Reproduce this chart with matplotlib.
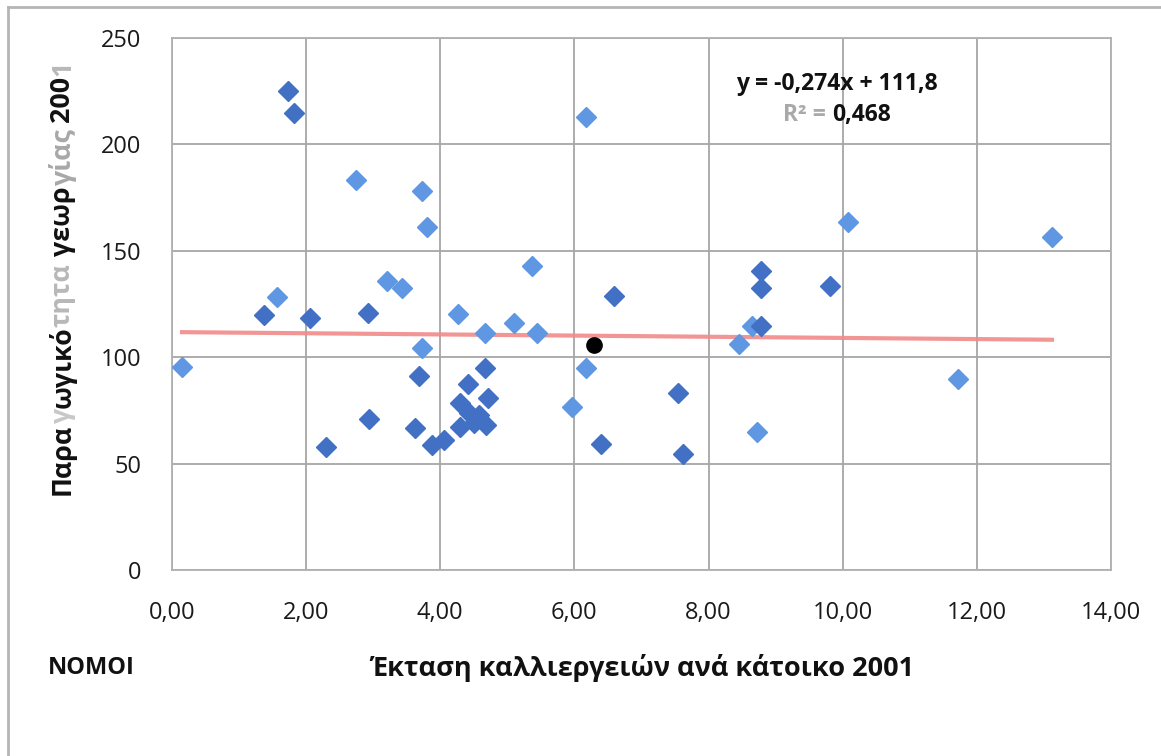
import numpy as np
import matplotlib.pyplot as plt
from matplotlib.lines import Line2D

plt.rcParams['font.family'] = ['Open Sans', 'DejaVu Sans']

# δεδομένα (ανά νομό) - σκούρα σημεία
x_dark = [1.37, 1.73, 1.82, 2.06, 2.30, 2.92, 2.94, 3.63, 3.69, 3.87, 4.06, 4.29, 4.29,
          4.41, 4.43, 4.51, 4.58, 4.66, 4.68, 4.71, 6.39, 6.59, 7.54, 7.62, 8.78, 8.78,
          8.78, 9.81]
y_dark = [119.8, 224.9, 214.8, 118.2, 57.8, 121.0, 70.9, 66.7, 91.2, 58.8, 61.2, 78.4, 67.4,
          87.4, 73.7, 69.0, 73.0, 94.8, 68.2, 80.7, 59.4, 128.7, 83.0, 54.7, 140.6, 132.3,
          114.5, 133.4]
# ανοιχτά σημεία
x_light = [0.15, 1.56, 2.75, 3.20, 3.43, 3.72, 3.80, 3.72, 4.26, 4.67, 5.10, 5.37, 5.44,
           5.96, 6.17, 6.17, 8.45, 8.65, 8.72, 10.08, 11.72, 13.12]
y_light = [95.3, 128.4, 183.4, 135.9, 132.4, 178.1, 161.2, 104.2, 120.2, 111.2, 115.9, 142.8,
           111.2, 76.8, 94.8, 212.8, 106.3, 114.5, 64.9, 163.3, 89.6, 156.6]
# μαύρο σημείο
x_black = [6.29]
y_black = [105.7]

# γραμμή τάσης
slope = -0.274
intercept = 111.8
eq_text = "y = -0,274x + 111,8"
r2_label = "R² = "
r2_value = "0,468"

xticks = [0, 2, 4, 6, 8, 10, 12, 14]
xticklabels = ["0,00", "2,00", "4,00", "6,00", "8,00", "10,00", "12,00", "14,00"]
yticks = [0, 50, 100, 150, 200, 250]

W, H = 1161, 756
fig = plt.figure(figsize=(W / 100, H / 100), dpi=100)
ax = fig.add_axes([172 / W, 1 - 570 / H, (1111 - 172) / W, (570 - 38) / H])

ax.set_xlim(0, 14)
ax.set_ylim(0, 250)
ax.set_xticks(xticks)
ax.set_xticklabels(xticklabels)
ax.set_yticks(yticks)
ax.tick_params(length=0, labelsize=17, colors='#1a1a1a')
ax.tick_params(axis='x', pad=22)
ax.tick_params(axis='y', pad=22)
ax.grid(True, color='#a6a6a6', lw=1.3)
ax.set_axisbelow(True)
for s in ax.spines.values():
    s.set_color('#b0b0b0')
    s.set_linewidth(1.3)

# γραμμή τάσης από min έως max x
xs = np.array([min(x_light + x_dark), max(x_light + x_dark)])
ax.plot(xs, slope * xs + intercept, color='#f08a8a', lw=3, alpha=0.9, zorder=2)

ax.plot(x_light, y_light, 'D', ms=10.5, color='#5f97e3', mec='#5f97e3', zorder=3, ls='none')
ax.plot(x_dark, y_dark, 'D', ms=10.5, color='#4270c4', mec='#4270c4', zorder=4, ls='none')
ax.plot(x_black, y_black, 'o', ms=11, color='black', zorder=5, ls='none')

fig.canvas.draw()
renderer = fig.canvas.get_renderer()


def text_width(s, fs):
    t = fig.text(0, 0, s, fontsize=fs, fontweight='bold')
    w = t.get_window_extent(renderer).width
    t.remove()
    return w


# εξίσωση
fs_eq = 16.5
fig.text(837 / W, 1 - 84 / H, eq_text, ha='center', va='center', fontsize=fs_eq,
         fontweight='bold', color='#111111')
w_lab = text_width(r2_label, fs_eq)
w_val = text_width(r2_value, fs_eq)
x0 = 837 - (w_lab + w_val) / 2
fig.text(x0 / W, 1 - 115 / H, r2_label, ha='left', va='center', fontsize=fs_eq,
         fontweight='bold', color='#a9a9a9')
fig.text((x0 + w_lab) / W, 1 - 115 / H, r2_value, ha='left', va='center', fontsize=fs_eq,
         fontweight='bold', color='#111111')

# τίτλοι αξόνων
fig.text(642 / W, 1 - 668 / H, "Έκταση καλλιεργειών ανά κάτοικο 2001", ha='center',
         va='center', fontsize=19.5, fontweight='bold', color='#111111')
fig.text(48 / W, 1 - 668 / H, "NOMOI", ha='left', va='center', fontsize=17,
         fontweight='bold', color='#111111')

# ετικέτα y σε κομμάτια (κάποια γράμματα ξεθωριασμένα όπως στο σκαναρισμένο)
pieces = [("Παρα", '#111111'), ("γ", '#c8c8c8'), ("ωγικό", '#111111'), ("τητα", '#b8b8b8'),
          (" γεωρ", '#111111'), ("γίας", '#a8a8a8'), (" 200", '#111111'), ("1", '#b8b8b8')]
fs_y = 17
widths = [text_width(p[0], fs_y) for p in pieces]
fs_y = fs_y * 433 / sum(widths)
widths = [text_width(p[0], fs_y) for p in pieces]
cur = H - (278 + sum(widths) / 2)  # κάτω άκρο σε pixel
for (txt, col), w in zip(pieces, widths):
    fig.text(63 / W, cur / H, txt, rotation=90, fontsize=fs_y, fontweight='bold',
             color=col, ha='left', va='center', rotation_mode='anchor')
    cur += w

# πλαίσιο
fig.add_artist(Line2D([8 / W, 8 / W], [0, 1 - 7 / H], color='#b5b5b5', lw=2))
fig.add_artist(Line2D([8 / W, 1], [1 - 7 / H, 1 - 7 / H], color='#b5b5b5', lw=2))

fig.savefig('out.png', dpi=100)
